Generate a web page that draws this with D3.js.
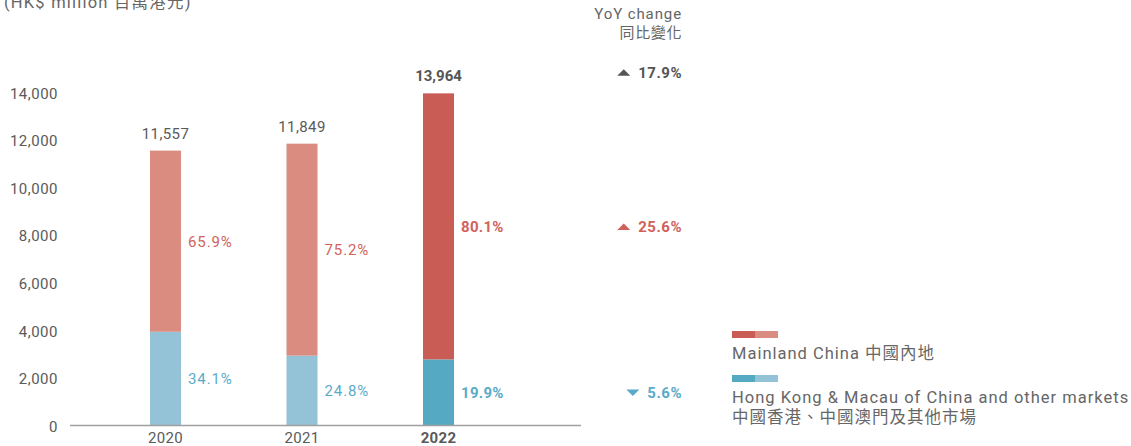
<!DOCTYPE html>
<html>
<head>
<meta charset="utf-8">
<script src="https://cdn.jsdelivr.net/npm/d3@7"></script>
<style>
  body { margin: 0; background: #fff; }
  svg text { font-family: Roboto, "Noto Sans CJK TC", sans-serif; }
</style>
</head>
<body>
<div id="chart"></div>
<script>
// data
var years = ["2020", "2021", "2022"];
var mainland = [7616, 8911, 11185];
var other = [3941, 2938, 2779];
var totals = [11557, 11849, 13964];
var mainland_pct = ["65.9%", "75.2%", "80.1%"];
var other_pct = ["34.1%", "24.8%", "19.9%"];
var yoy_labels = ["17.9%", "25.6%", "5.6%"];
var yoy_dirs = ["up", "up", "down"];
var y_ticks = [0, 2000, 4000, 6000, 8000, 10000, 12000, 14000];

var width = 1131, height = 446;
var light_red = "#d98c7f", dark_red = "#c95c54";
var light_blue = "#94c2d6", dark_blue = "#55a9c3";
var red_text = "#d0625b", blue_text = "#5aabc8";
var grey = "#666";

var svg = d3.select("#chart").append("svg")
    .attr("width", width)
    .attr("height", height);

var y = d3.scaleLinear().domain([0, 14000]).range([425.5, 92.5]);
var x = d3.scalePoint().domain(years).range([165.5, 438.5]);
var bar_w = 31;

// unit title (top is cut by the frame, like the original)
svg.append("text")
    .attr("x", 4).attr("y", 8)
    .attr("font-size", 16.5).attr("letter-spacing", 1.2).attr("fill", grey)
    .text("(HK$ million 百萬港元)");

// y axis (labels only)
var yAxis = d3.axisLeft(y).tickValues(y_ticks).tickSize(0).tickPadding(0)
    .tickFormat(d3.format(","));
var gy = svg.append("g").attr("transform", "translate(58,0)").call(yAxis);
gy.select(".domain").remove();
gy.selectAll("text")
    .attr("font-size", 15).attr("fill", "#5a5a5a")
    .attr("letter-spacing", 0.5)
    .attr("font-family", "Roboto, sans-serif")
    .attr("dy", "0.38em");

// bars
var last = years.length - 1;
years.forEach(function (yr, i) {
    var cx = x(yr);
    var is_last = i == last;
    svg.append("rect")
        .attr("x", cx - bar_w / 2).attr("width", bar_w)
        .attr("y", y(other[i])).attr("height", y(0) - y(other[i]))
        .attr("fill", is_last ? dark_blue : light_blue);
    svg.append("rect")
        .attr("x", cx - bar_w / 2).attr("width", bar_w)
        .attr("y", y(other[i] + mainland[i])).attr("height", y(other[i]) - y(other[i] + mainland[i]))
        .attr("fill", is_last ? dark_red : light_red);

    // total on top
    svg.append("text")
        .attr("x", cx).attr("y", y(totals[i]) - 12)
        .attr("text-anchor", "middle")
        .attr("font-size", 15)
        .attr("letter-spacing", is_last ? 0 : 0.4)
        .attr("font-weight", is_last ? "bold" : "normal")
        .attr("fill", is_last ? "#555" : "#5a5a5a")
        .text(d3.format(",")(totals[i]));

    // percentages at segment middles
    svg.append("text")
        .attr("x", cx + bar_w / 2 + 7)
        .attr("y", (y(other[i]) + y(other[i] + mainland[i])) / 2)
        .attr("dy", "0.36em")
        .attr("font-size", 15)
        .attr("letter-spacing", is_last ? 0.3 : 0.9)
        .attr("font-weight", is_last ? "bold" : "normal")
        .attr("fill", red_text)
        .text(mainland_pct[i]);
    svg.append("text")
        .attr("x", cx + bar_w / 2 + 7)
        .attr("y", (y(0) + y(other[i])) / 2)
        .attr("dy", "0.36em")
        .attr("font-size", 15)
        .attr("letter-spacing", is_last ? 0.3 : 0.9)
        .attr("font-weight", is_last ? "bold" : "normal")
        .attr("fill", blue_text)
        .text(other_pct[i]);
});

// x axis line + year labels
svg.append("line")
    .attr("x1", 70).attr("x2", 581)
    .attr("y1", y(0)).attr("y2", y(0))
    .attr("stroke", "#a0a0a0").attr("stroke-width", 1.5);
years.forEach(function (yr, i) {
    svg.append("text")
        .attr("x", x(yr)).attr("y", 443)
        .attr("text-anchor", "middle")
        .attr("font-size", 15)
        .attr("letter-spacing", 0.3)
        .attr("font-weight", i == last ? "bold" : "normal")
        .attr("fill", "#5a5a5a")
        .text(yr);
});

// YoY column
var yoy_x = 682;
svg.append("text")
    .attr("x", yoy_x).attr("y", 19)
    .attr("text-anchor", "end").attr("font-size", 15).attr("letter-spacing", 0.9).attr("fill", grey)
    .text("YoY change");
svg.append("text")
    .attr("x", yoy_x).attr("y", 38)
    .attr("text-anchor", "end").attr("font-size", 15).attr("letter-spacing", 0.6).attr("fill", grey)
    .text("同比變化");

var yoy_y = [y(totals[last]) - 21,
             (y(other[last]) + y(other[last] + mainland[last])) / 2,
             (y(0) + y(other[last])) / 2];
var yoy_colors = ["#555", red_text, blue_text];
yoy_labels.forEach(function (lab, i) {
    var t = svg.append("text")
        .attr("x", yoy_x).attr("y", yoy_y[i])
        .attr("dy", "0.36em")
        .attr("text-anchor", "end")
        .attr("font-size", 15).attr("font-weight", "bold")
        .attr("letter-spacing", 0.5)
        .attr("fill", yoy_colors[i])
        .text(lab);
    var tw = t.node().getComputedTextLength();
    var tx = yoy_x - tw - 8, ty = yoy_y[i];
    var p = d3.path();
    if (yoy_dirs[i] == "up") {
        p.moveTo(tx - 13, ty + 3.5); p.lineTo(tx, ty + 3.5); p.lineTo(tx - 6.5, ty - 3); p.closePath();
    } else {
        p.moveTo(tx - 13, ty - 3); p.lineTo(tx, ty - 3); p.lineTo(tx - 6.5, ty + 3.5); p.closePath();
    }
    svg.append("path").attr("d", p.toString()).attr("fill", yoy_colors[i]);
});

// legend
var legend = [
    { lines: ["Mainland China 中國內地"], dark: dark_red, light: light_red, y: 331 },
    { lines: ["Hong Kong & Macau of China and other markets", "中國香港、中國澳門及其他市場"], dark: dark_blue, light: light_blue, y: 375 }
];
legend.forEach(function (l) {
    svg.append("rect").attr("x", 732).attr("y", l.y).attr("width", 23).attr("height", 7).attr("fill", l.dark);
    svg.append("rect").attr("x", 755).attr("y", l.y).attr("width", 23).attr("height", 7).attr("fill", l.light);
    l.lines.forEach(function (s, j) {
        svg.append("text")
            .attr("x", 732).attr("y", l.y + 28 + j * 20)
            .attr("font-size", 16.5).attr("letter-spacing", 1.0).attr("fill", grey)
            .text(s);
    });
});
</script>
</body>
</html>
